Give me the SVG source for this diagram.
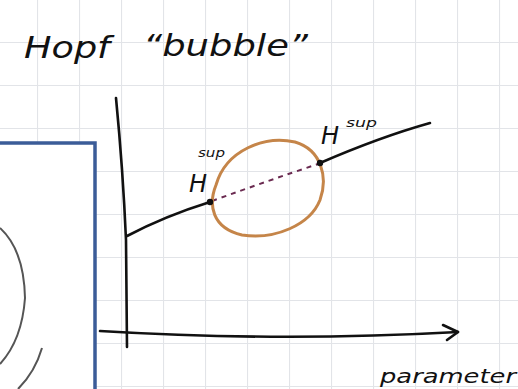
<svg xmlns="http://www.w3.org/2000/svg" width="518" height="389" viewBox="0 0 518 389">
<defs>
<style>
.grid{stroke:#e2e4e8;stroke-width:1.2}
.ink{fill:none;stroke:#111;stroke-width:2.6;stroke-linecap:round;stroke-linejoin:round}
.hand{font-family:"DejaVu Sans","Liberation Sans",sans-serif;font-style:italic;fill:#111}
</style>
<pattern id="g" x="37" y="0" width="42" height="43" patternUnits="userSpaceOnUse">
<path d="M0.5 0V43M0 42.5H42" class="grid"/>
</pattern>
</defs>
<rect width="518" height="389" fill="#fff"/>
<rect width="518" height="389" fill="url(#g)"/>
<g id="title">
<text class="hand" x="24" y="58" font-size="30" textLength="86" lengthAdjust="spacingAndGlyphs">Hopf</text>
<text class="hand" x="143" y="56" font-size="30" textLength="165" lengthAdjust="spacingAndGlyphs">“bubble”</text>
</g>
<g id="panel">
<rect x="-5" y="143" width="100" height="260" fill="#fff" stroke="#3b5c98" stroke-width="3.5"/>
<path d="M0 228 Q24 250 25 298 Q22 340 0 364" fill="none" stroke="#555" stroke-width="2"/>
<path d="M42 348 Q35 372 18 389" fill="none" stroke="#555" stroke-width="2"/>
</g>
<g id="connectors">
<path class="ink" d="M116 98 Q123 170 126 240 L127 347"/>
<path class="ink" d="M100 331 Q280 342 458 332"/>
<path class="ink" d="M443 325 L458 332 L447 340"/>
<path class="ink" d="M127 236 Q165 216 210 202"/>
<path d="M212 201 Q270 180 318 164" fill="none" stroke="#6a2a50" stroke-width="2" stroke-dasharray="5 5"/>
<path class="ink" d="M320 163 Q380 137 430 123"/>
</g>
<g id="bubble">
<path d="M216 185 C226 150 265 135 295 142 C322 150 328 178 320 200 C310 225 275 240 242 235 C212 228 208 205 216 185 Z" fill="none" stroke="#c58549" stroke-width="3"/>
</g>
<g id="H-left">
<circle cx="210" cy="202" r="3.2" fill="#111"/>
<text class="hand" x="189" y="192" font-size="24">H</text>
<text class="hand" x="198" y="157" font-size="12" textLength="27" lengthAdjust="spacingAndGlyphs">sup</text>
</g>
<g id="H-right">
<circle cx="320" cy="163" r="3.2" fill="#111"/>
<text class="hand" x="321" y="144" font-size="24">H</text>
<text class="hand" x="346" y="127" font-size="12" textLength="31" lengthAdjust="spacingAndGlyphs">sup</text>
</g>
<g id="xlabel">
<text class="hand" x="380" y="383" font-size="20" textLength="136" lengthAdjust="spacingAndGlyphs">parameter</text>
</g>
</svg>
